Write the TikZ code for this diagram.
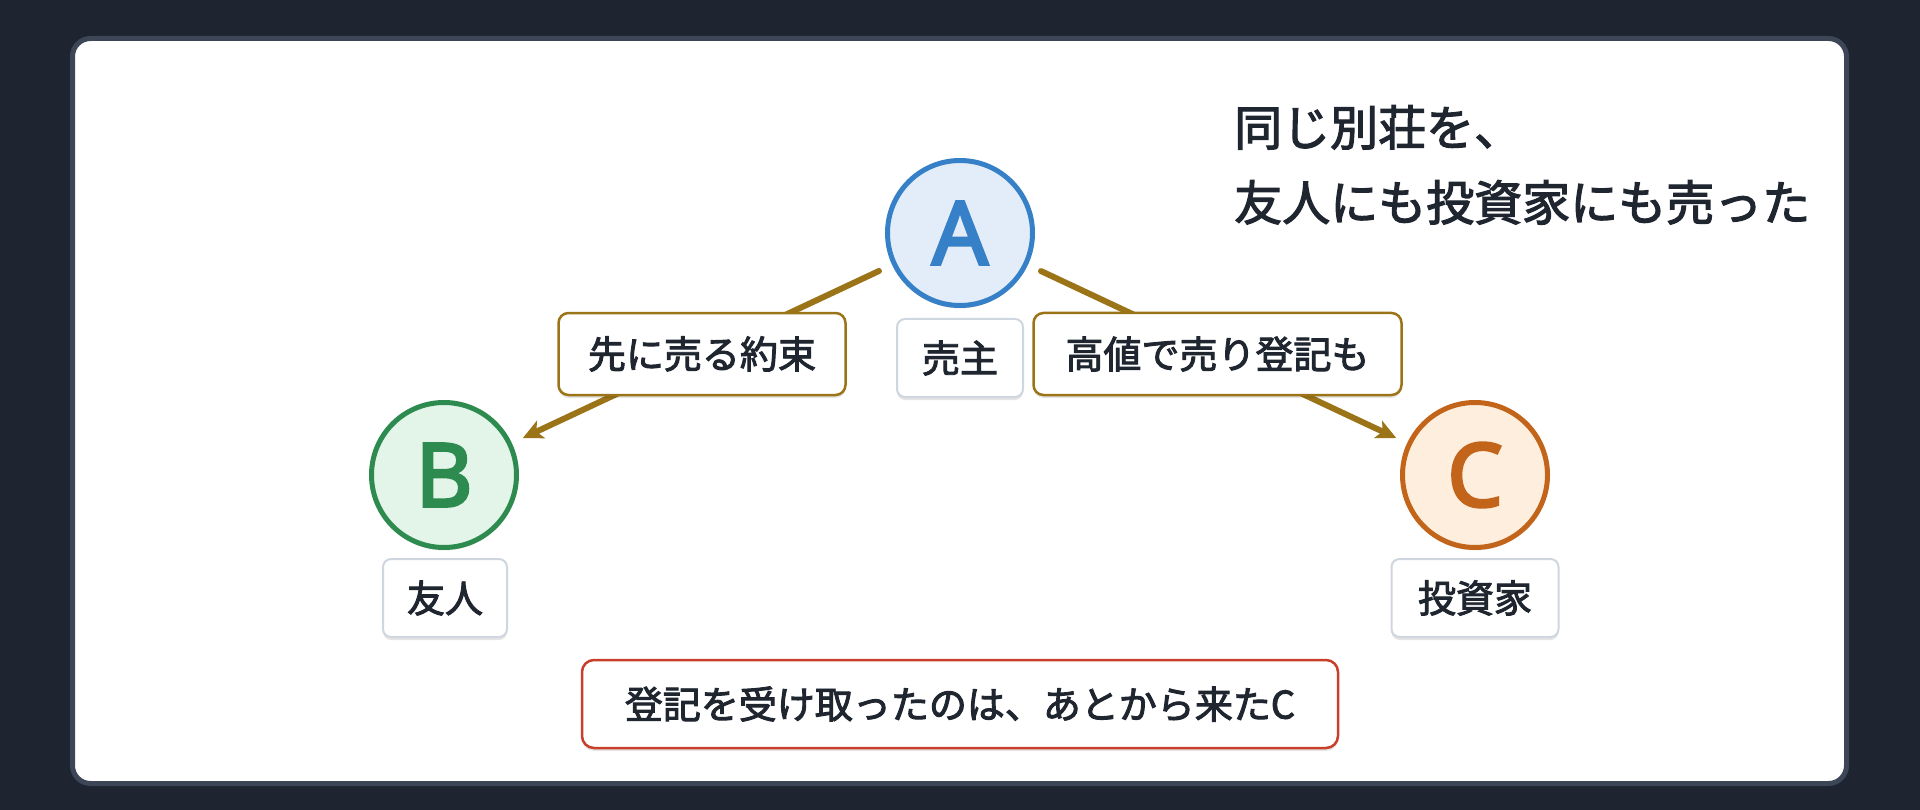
\documentclass[tikz,border=0pt]{standalone}
\usepackage{fontspec}
\newfontfamily\jp{Noto Sans CJK JP}[FakeBold=2.5]
\newfontfamily\jpletter{Noto Sans}[FakeBold=3.2]
\usetikzlibrary{arrows.meta,shadows}
\definecolor{bgdark}{HTML}{1E2430}
\definecolor{panelborder}{HTML}{3C4656}
\definecolor{txt}{HTML}{1F2630}
\definecolor{afill}{HTML}{E3EDF9}
\definecolor{aline}{HTML}{3580C6}
\definecolor{bfill}{HTML}{E3F5E8}
\definecolor{bline}{HTML}{2E8B4F}
\definecolor{cfill}{HTML}{FDEEDE}
\definecolor{cline}{HTML}{C2651A}
\definecolor{gold}{HTML}{9C7418}
\definecolor{grayline}{HTML}{CFD6DF}
\definecolor{redline}{HTML}{C8402C}
\tikzset{
  softshadow/.style={drop shadow={shadow xshift=0pt,shadow yshift=-3pt,opacity=.10,fill=black}},
  person/.style={circle,minimum size=145pt,line width=5pt,inner sep=0pt,
    font=\jpletter\fontsize{88}{88}\selectfont,softshadow},
  rolebox/.style={draw=grayline,line width=2pt,fill=white,rounded corners=8pt,
    minimum height=78pt,inner sep=0pt,text=txt,font=\jp\fontsize{38}{46}\selectfont,softshadow},
  actbox/.style={draw=gold,line width=2.5pt,fill=white,rounded corners=10pt,
    minimum height=82pt,inner sep=0pt,text=txt,font=\jp\fontsize{38}{46}\selectfont,softshadow},
  edge/.style={draw=gold,line width=6pt,line cap=round,
    -{Stealth[length=20pt,width=19pt,inset=5pt]},shorten <=14.5pt,shorten >=12pt},
}
\begin{document}
\begin{tikzpicture}[x=1pt,y=-1pt]
\useasboundingbox (0,0) rectangle (1920,810);
\fill[bgdark] (0,0) rectangle (1920,810);
\draw[panelborder,line width=5pt,fill=white,rounded corners=18pt] (72.5,38.5) rectangle (1846.5,783.5);

\node[person,draw=aline,fill=afill,text=aline] (A) at (960,233) {A};
\node[person,draw=bline,fill=bfill,text=bline] (B) at (444,475) {B};
\node[person,draw=cline,fill=cfill,text=cline] (C) at (1475,475) {C};

\node[rolebox,minimum width=126pt] (rA) at (960,358) {売主};
\node[rolebox,minimum width=124pt] (rB) at (445,598) {友人};
\node[rolebox,minimum width=167pt] (rC) at (1475,598) {投資家};

\draw[edge] (A) -- node[actbox,minimum width=287pt] (lAB) {先に売る約束} (B);
\draw[edge] (A) -- node[actbox,minimum width=368pt] (lAC) {高値で売り登記も} (C);

\node[draw=redline,line width=2.5pt,fill=white,rounded corners=12pt,minimum width=756pt,
  minimum height=88pt,inner sep=0pt,text=txt,font=\jp\fontsize{38}{46}\selectfont,softshadow]
  (res) at (960,704) {登記を受け取ったのは、あとから来たC};

\node[anchor=north west,inner sep=0pt,align=left,text=txt,font=\jp\fontsize{48}{75}\selectfont]
  (title) at (1234,105) {同じ別荘を、\\友人にも投資家にも売った};
\end{tikzpicture}
\end{document}
